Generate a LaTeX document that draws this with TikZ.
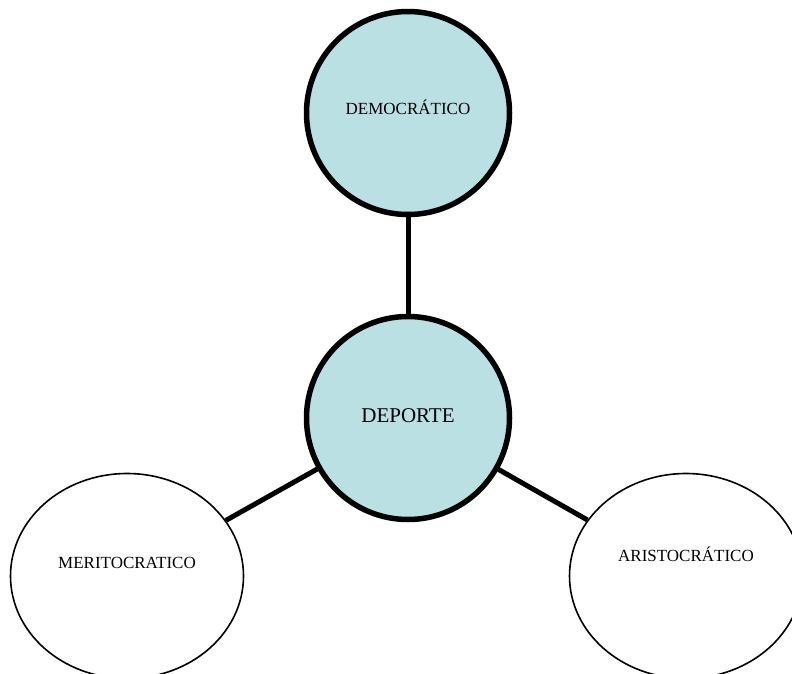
\documentclass[tikz,border=0pt]{standalone}
\usepackage{fontspec}
\setmainfont{Liberation Serif}
\usetikzlibrary{shapes.geometric}
\definecolor{celeste}{RGB}{186,224,227}
\begin{document}
\begin{tikzpicture}[x=1pt, y=-1pt,
    centro/.style={circle, draw, line width=5.5pt, fill=celeste, minimum size=203pt, inner sep=0pt},
    ovalo/.style={ellipse, draw, line width=1.6pt, fill=white, minimum width=233pt, minimum height=205pt, inner sep=0pt},
    rotulo/.style={font=\fontsize{17}{20}\selectfont},
    enlace/.style={line width=5pt}]
    % marco
    \clip (0,0) rectangle (792,673);

    % nodos
    \node[centro, label={[rotulo, yshift=6pt]center:DEMOCRÁTICO}] (demo) at (408,113) {};
    \node[centro, label={[font=\fontsize{21}{24}\selectfont, yshift=2pt]center:DEPORTE}] (deporte) at (408,418) {};
    \node[ovalo, label={[rotulo, yshift=13pt]center:MERITOCRATICO}] (merito) at (127,576) {};
    \node[ovalo, label={[rotulo, yshift=22pt]center:ARISTOCRÁTICO}] (aristo) at (686,576) {};

    % enlaces
    \foreach \n in {demo, merito, aristo}
        \draw[enlace] (deporte) -- (\n);
\end{tikzpicture}
\end{document}
